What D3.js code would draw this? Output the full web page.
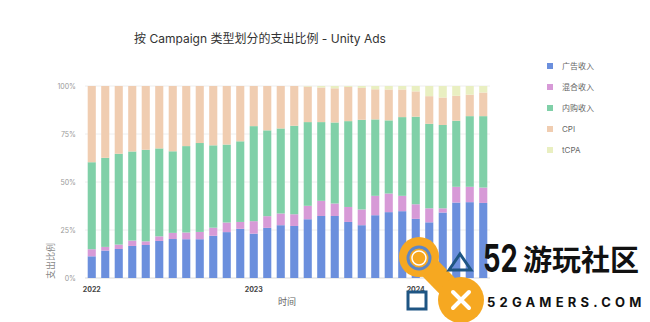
<!DOCTYPE html>
<html>
<head>
<meta charset="utf-8">
<script src="https://cdn.jsdelivr.net/npm/d3@7"></script>
<style>
  body { margin: 0; background: #fff; }
  text { font-family: Inter, "Noto Sans CJK SC", sans-serif; }
</style>
</head>
<body>
<div id="viz"></div>
<script>
// months Jan 2022 .. Jun 2024
const months = d3.range(30).map(i => new Date(2022, i, 1));
const seriesNames = ["广告收入", "混合收入", "内购收入", "CPI", "tCPA"];
const seriesColors = ["#6b8fdd", "#d79ad7", "#80d0a8", "#f0cdb1", "#e9efc1"];

// share of spend per month (%)
const adRevenue = [11.3, 14.3, 15.1, 16.7, 17.2, 19.3, 20.3, 20.2, 20.2, 22.0, 23.9, 25.6,
                   23.1, 26.1, 27.5, 27.1, 30.6, 32.3, 32.3, 29.2, 27.5, 32.7, 34.3, 34.8,
                   30.8, 29.0, 34.1, 39.3, 39.5, 39.1];
const hybrid    = [3.7, 1.9, 2.3, 2.8, 1.9, 2.4, 3.2, 3.5, 3.8, 4.2, 5.0, 3.6,
                   6.5, 6.1, 6.1, 6.1, 7.0, 7.9, 6.5, 7.8, 8.2, 10.1, 9.7, 8.0,
                   7.6, 7.3, 2.2, 8.2, 8.0, 8.0];
const iap       = [45.3, 46.4, 47.3, 46.4, 47.7, 45.8, 42.5, 45.0, 46.3, 42.9, 40.6, 42.0,
                   49.5, 44.7, 44.3, 46.1, 43.6, 41.0, 42.2, 44.7, 46.7, 39.8, 38.1, 41.0,
                   45.6, 44.0, 43.4, 34.4, 36.8, 37.2];
const cpi       = [39.7, 37.4, 35.3, 34.1, 33.2, 32.5, 34.0, 31.3, 29.7, 30.9, 30.5, 28.8,
                   20.9, 23.1, 22.1, 20.7, 18.5, 18.0, 17.8, 17.8, 16.6, 15.7, 16.1, 14.4,
                   13.2, 14.4, 14.3, 13.0, 11.2, 12.3];
const tcpa      = [0, 0, 0, 0, 0, 0, 0, 0, 0, 0, 0, 0,
                   0, 0, 0, 0, 0.3, 0.8, 1.2, 0.5, 1.0, 1.7, 1.8, 1.8,
                   2.8, 5.3, 6.0, 5.1, 4.5, 3.4];
const yTicks = [0, 0.25, 0.5, 0.75, 1];
const yearTicks = [0, 12, 24];

const width = 650, height = 322;
const allSeries = [adRevenue, hybrid, iap, cpi, tcpa];
const rows = months.map((m, i) => {
  const r = { month: m };
  seriesNames.forEach((s, j) => r[s] = allSeries[j][i]);
  return r;
});

const svg = d3.select("#viz").append("svg")
  .attr("width", width)
  .attr("height", height);

const x = d3.scaleBand()
  .domain(d3.range(months.length))
  .range([85, 490])
  .paddingInner(0.4)
  .paddingOuter(0.2);

const y = d3.scaleLinear()
  .domain([0, 1])
  .range([278, 86]);

const color = d3.scaleOrdinal().domain(seriesNames).range(seriesColors);

// gridlines
svg.append("g")
  .selectAll("line")
  .data(yTicks)
  .join("line")
  .attr("x1", 85).attr("x2", 490)
  .attr("y1", d => y(d)).attr("y2", d => y(d))
  .attr("stroke", d => d === 0 ? "#d9d9d9" : "#eeeeee")
  .attr("stroke-width", 1);

svg.append("g")
  .selectAll("text")
  .data(yTicks)
  .join("text")
  .attr("x", 76)
  .attr("y", d => y(d) + 2.5)
  .attr("text-anchor", "end")
  .attr("font-size", "7px")
  .attr("fill", "#999")
  .text(d => d3.format(".0%")(d));

// stacked bars, normalised to 100%
const stack = d3.stack()
  .keys(seriesNames)
  .offset(d3.stackOffsetExpand);

svg.append("g")
  .selectAll("g")
  .data(stack(rows))
  .join("g")
  .attr("fill", d => color(d.key))
  .selectAll("rect")
  .data(d => d)
  .join("rect")
  .attr("x", (d, i) => x(i))
  .attr("y", d => y(d[1]))
  .attr("width", x.bandwidth())
  .attr("height", d => y(d[0]) - y(d[1]));

// x labels
svg.append("g")
  .selectAll("text")
  .data(yearTicks)
  .join("text")
  .attr("x", d => x(d) + x.bandwidth() / 2)
  .attr("y", 292)
  .attr("text-anchor", "middle")
  .attr("font-size", "7px")
  .attr("font-weight", "bold")
  .attr("fill", "#444")
  .text(d => months[d].getFullYear());

svg.append("text")
  .attr("x", 287)
  .attr("y", 305)
  .attr("text-anchor", "middle")
  .attr("font-size", "9px")
  .attr("fill", "#666")
  .text("时间");

svg.append("text")
  .attr("transform", "translate(54, 261) rotate(-90)")
  .attr("text-anchor", "middle")
  .attr("font-size", "9px")
  .attr("fill", "#888")
  .text("支出比例");

// title
svg.append("text")
  .attr("x", 260)
  .attr("y", 43)
  .attr("text-anchor", "middle")
  .attr("font-size", "12px")
  .attr("fill", "#333")
  .text("按 Campaign 类型划分的支出比例 - Unity Ads");

// legend
const legend = svg.append("g")
  .selectAll("g")
  .data(seriesNames)
  .join("g")
  .attr("transform", (d, i) => `translate(547, ${66 + i * 21})`);

legend.append("rect")
  .attr("x", 0).attr("y", -3)
  .attr("width", 6).attr("height", 6)
  .attr("fill", d => color(d));

legend.append("text")
  .attr("x", 15)
  .attr("y", 3)
  .attr("font-size", "8px")
  .attr("fill", "#666")
  .text(d => d);

// site watermark in the corner
const wm = svg.append("g");
wm.append("line")
  .attr("x1", 419).attr("y1", 257).attr("x2", 461).attr("y2", 300)
  .attr("stroke", "#f6a821").attr("stroke-width", 22);
wm.append("circle").attr("cx", 419).attr("cy", 257).attr("r", 20).attr("fill", "#f6a821");
wm.append("circle").attr("cx", 461).attr("cy", 300).attr("r", 23).attr("fill", "#f6a821");
wm.append("circle").attr("cx", 419).attr("cy", 258).attr("r", 11)
  .attr("fill", "#f6a821").attr("stroke", "#5d86c6").attr("stroke-width", 3);
wm.append("circle").attr("cx", 419).attr("cy", 258).attr("r", 7).attr("fill", "#f6a821")
  .attr("stroke", "#fff").attr("stroke-width", 1.5);
wm.append("path")
  .attr("d", "M449,270 L460,254 L471,270 Z")
  .attr("fill", "none").attr("stroke", "#1e5583").attr("stroke-width", 3);
wm.append("rect")
  .attr("x", 408).attr("y", 292).attr("width", 18).attr("height", 17)
  .attr("fill", "none").attr("stroke", "#1e5583").attr("stroke-width", 3);
wm.append("path")
  .attr("d", "M453,292 L469,308 M469,292 L453,308")
  .attr("stroke", "#fff").attr("stroke-width", 4).attr("stroke-linecap", "round");
wm.append("text")
  .attr("transform", "translate(483, 272) scale(0.72, 1)")
  .attr("font-size", "38px").attr("font-weight", "bold")
  .attr("fill", "#111")
  .text("52");
wm.append("text")
  .attr("x", 523).attr("y", 271)
  .attr("font-size", "29px").attr("font-weight", "bold")
  .attr("fill", "#111")
  .text("游玩社区");
wm.append("text")
  .attr("x", 487).attr("y", 307)
  .attr("font-size", "13px").attr("font-weight", "bold")
  .attr("letter-spacing", "4.2px")
  .attr("fill", "#111")
  .text("52GAMERS.COM");
</script>
</body>
</html>
